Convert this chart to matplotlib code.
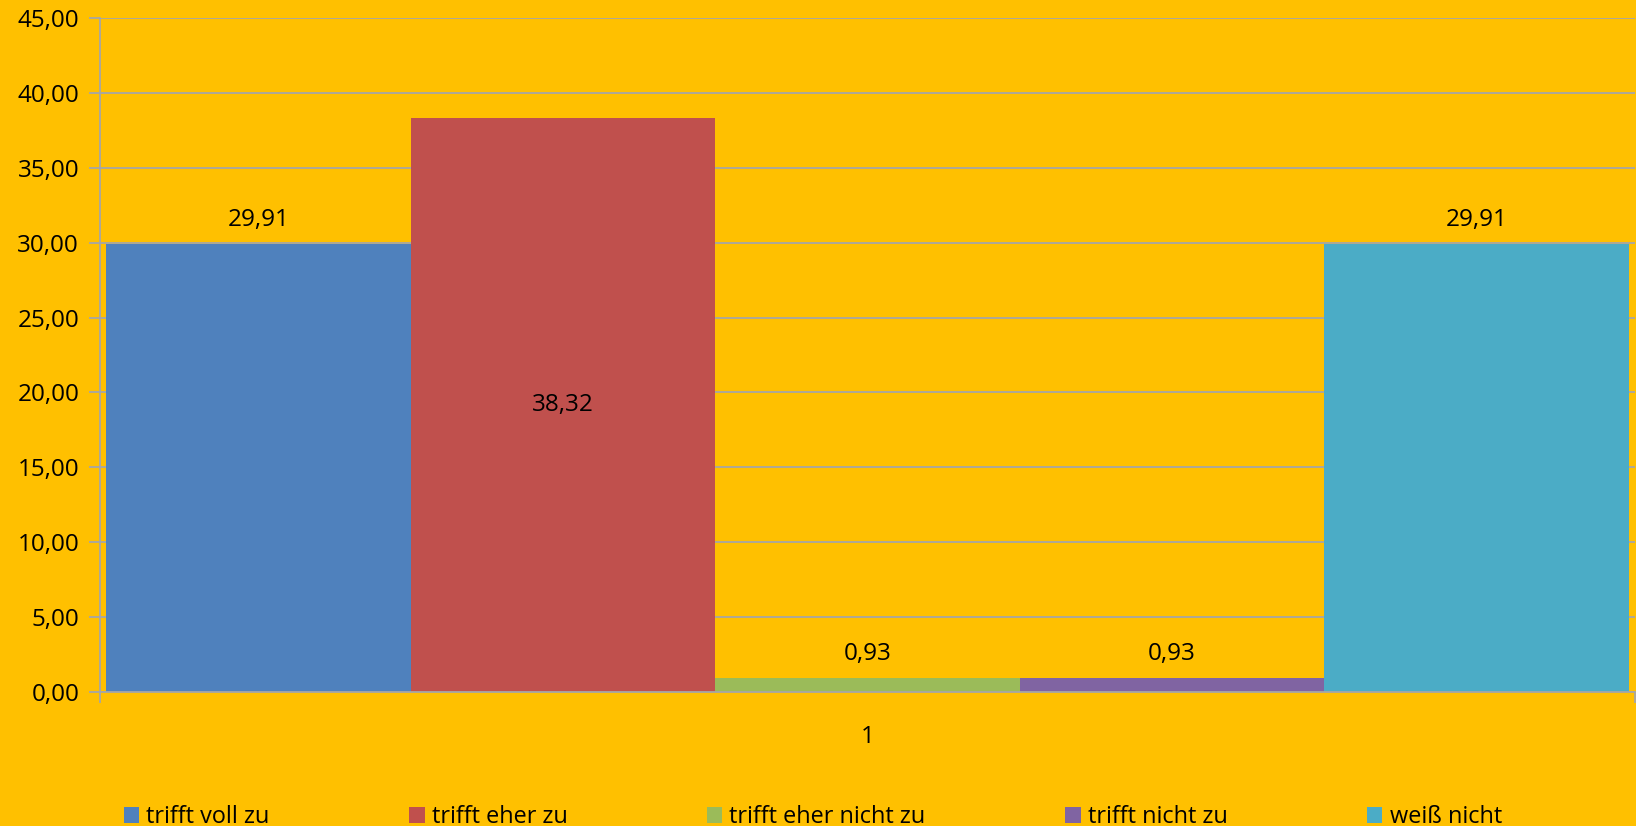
import matplotlib
matplotlib.use("Agg")
import matplotlib.pyplot as plt
from matplotlib.patches import Patch
from matplotlib.ticker import FuncFormatter

# values (percent)
categories = ["trifft voll zu", "trifft eher zu", "trifft eher nicht zu",
              "trifft nicht zu", "weiß nicht"]
values = [29.91, 38.32, 0.93, 0.93, 29.91]
colors = ["#4F81BD", "#C0504D", "#9BBB59", "#8064A2", "#4BACC6"]
group_label = "1"

bg = "#FFC000"
grid_col = "#A6A6A6"
plt.rcParams['font.family'] = ['Open Sans', 'DejaVu Sans']
fs = 17.5
leg_fs = 16.9

fig = plt.figure(figsize=(16.36, 8.26), dpi=100, facecolor=bg)
ax = fig.add_axes([100 / 1636, 1 - 692 / 826, 1535 / 1636, 674 / 826])
ax.set_facecolor(bg)

pos = list(range(len(values)))
bars = ax.bar(pos, values, width=1.0, color=colors, zorder=3)

ax.set_ylim(0, 45)
ax.set_yticks(range(0, 50, 5))
ax.yaxis.set_major_formatter(FuncFormatter(lambda v, p: f"{v:.2f}".replace(".", ",")))
edge = 6 / 304.6
ax.set_xlim(-0.5 - edge, len(values) - 0.5 + edge)
ax.grid(axis="y", color=grid_col, linewidth=1.3, zorder=0)

for s in ["top", "right"]:
    ax.spines[s].set_visible(False)
for s in ["left", "bottom"]:
    ax.spines[s].set_color(grid_col)
    ax.spines[s].set_linewidth(1.3)
    ax.spines[s].set_zorder(4)

ax.tick_params(axis="y", labelsize=fs, colors=grid_col, labelcolor="black",
               length=8, width=1.3, pad=7)
ax.set_xticks([(len(values) - 1) / 2])
ax.set_xticklabels([group_label])
ax.tick_params(axis="x", which="major", length=0, labelsize=fs, pad=24)
ax.set_xticks([-0.5 - edge, len(values) - 0.5 + edge], minor=True)
ax.tick_params(axis="x", which="minor", length=8, width=1.3, colors=grid_col)

# data labels: outside end, except the tallest which sits in the centre
for i, (b, v) in enumerate(zip(bars, values)):
    txt = f"{v:.2f}".replace(".", ",")
    if v == max(values):
        ax.text(b.get_x() + b.get_width() / 2, v / 2, txt, ha="center",
                va="center", fontsize=fs, zorder=5)
    else:
        ax.annotate(txt, (b.get_x() + b.get_width() / 2, v), xytext=(0, 17),
                    textcoords="offset points", ha="center", va="center",
                    fontsize=fs, zorder=5)

handles = [Patch(facecolor=c, edgecolor="none") for c in colors]
fig.legend(handles, categories, loc="center left",
           bbox_to_anchor=(124 / 1636, 1 - 817 / 826), ncol=5, frameon=False,
           fontsize=leg_fs, handlelength=0.65, handleheight=0.68, handletextpad=0.3,
           columnspacing=5.95, borderpad=0, borderaxespad=0)

fig.savefig("out.png", dpi=100, facecolor=bg)
